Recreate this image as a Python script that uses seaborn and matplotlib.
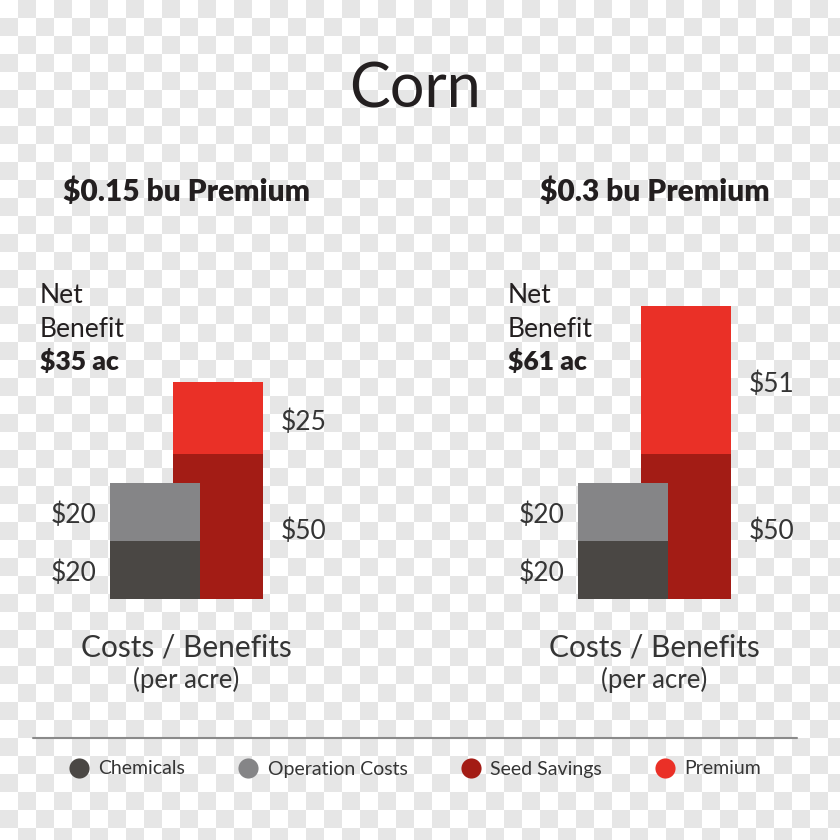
import numpy as np
import pandas as pd
import matplotlib
matplotlib.use("Agg")
import matplotlib.pyplot as plt
from matplotlib.lines import Line2D
from matplotlib.patches import Rectangle
import seaborn as sns

# ---------------- data ----------------
title = "Corn"
panels = ["$0.15 bu Premium", "$0.3 bu Premium"]
net_benefit = [35, 61]
layers = ["Chemicals", "Operation Costs", "Seed Savings", "Premium"]
chemicals = [20, 20]
operation_costs = [20, 20]
seed_savings = [50, 50]
premium = [25, 51]
stack_of_layer = {"Chemicals": "Costs", "Operation Costs": "Costs",
                  "Seed Savings": "Benefits", "Premium": "Benefits"}
colors = {"Chemicals": "#4a4744", "Operation Costs": "#858587",
          "Seed Savings": "#a31c15", "Premium": "#ea3027"}

# ---------------- style ----------------
sns.set_theme(style="white")
plt.rcParams["font.family"] = ["Lato", "DejaVu Sans"]
TXT = "#231f20"
LAB = "#353535"

W = H = 840
fig = plt.figure(figsize=(8.4, 8.4), dpi=100)
fig.patch.set_facecolor("white")

# transparent-checker backdrop of the reference (drawn as figure patches)
SQ = 18
CHECK = "#e6e6e6"
n = int(np.ceil(W / SQ)) + 1
for i in range(n):
    for j in range(n):
        if (i + j) % 2 == 1:
            fig.patches.append(Rectangle((j * SQ / W, 1 - (i + 1) * SQ / H), SQ / W, SQ / H,
                                         transform=fig.transFigure, figure=fig,
                                         facecolor=CHECK, edgecolor="none", zorder=-5))

UNIT_PX = 63.0      # px between the two stacks
DOLLAR_PX = 2.9     # px per dollar
BAR_W = 90 / UNIT_PX
xpos = {"Costs": 0.0, "Benefits": 1.0}

rows = []
for p, name in enumerate(panels):
    vals = {"Chemicals": chemicals[p], "Operation Costs": operation_costs[p],
            "Seed Savings": seed_savings[p], "Premium": premium[p]}
    cum = {"Costs": 0.0, "Benefits": 0.0}
    for lay in layers:
        st = stack_of_layer[lay]
        bottom = cum[st]
        cum[st] += vals[lay]
        rows.append(dict(panel=name, layer=lay, stack=st, x=xpos[st],
                         value=vals[lay], bottom=bottom, top=cum[st]))
df = pd.DataFrame(rows)

draw_order = ["Premium", "Seed Savings", "Operation Costs", "Chemicals"]


def px_axes(left, right, top, bottom):
    return fig.add_axes([left / W, 1 - bottom / H, (right - left) / W, (bottom - top) / H],
                        zorder=1)


for p, name in enumerate(panels):
    gc = 155 + 468 * p
    ax = px_axes(gc - 125, gc + 185, 250, 599)
    ax.patch.set_alpha(0)
    sub = df[df.panel == name]
    for lay in draw_order:
        d = sub[sub.layer == lay]
        sns.barplot(data=d, x="x", y="top", native_scale=True, width=BAR_W,
                    color=colors[lay], saturation=1, errorbar=None,
                    linewidth=0, ax=ax)
    ax.set_xlim(-125 / UNIT_PX, 185 / UNIT_PX)
    ax.set_ylim(0, 349 / DOLLAR_PX)
    ax.axis("off")

    # value labels
    for _, r in sub.iterrows():
        mid = (r.bottom + r.top) / 2
        if r.stack == "Costs":
            ax.annotate(f"${r.value:g}", xy=(r.x - BAR_W / 2, mid),
                        xytext=(-13, -11), textcoords="offset pixels",
                        ha="right", va="baseline", fontsize=19,
                        color=LAB, annotation_clip=False)
        else:
            ax.annotate(f"${r.value:g}", xy=(r.x + BAR_W / 2, mid),
                        xytext=(18, -12), textcoords="offset pixels",
                        ha="left", va="baseline", fontsize=19,
                        color=LAB, annotation_clip=False)

    cx = (gc - 45 + gc + 63 + 45) / 2
    fig.text(cx / W, 1 - 201 / H, name, ha="center", va="baseline",
             fontsize=21.5, fontweight="heavy", color=TXT)
    nx = (gc - 115) / W
    fig.text(nx, 1 - 303 / H, "Net", ha="left", va="baseline",
             fontsize=19, color=TXT)
    fig.text(nx, 1 - 337 / H, "Benefit", ha="left", va="baseline",
             fontsize=19, color=TXT)
    fig.text(nx, 1 - 370 / H, f"${net_benefit[p]} ac", ha="left", va="baseline",
             fontsize=19, fontweight="heavy", color=TXT)
    fig.text(cx / W, 1 - 657 / H, "Costs / Benefits", ha="center", va="baseline",
             fontsize=21.5, color=LAB)
    fig.text(cx / W, 1 - 688 / H, "(per acre)", ha="center", va="baseline",
             fontsize=18.5, color=LAB)

fig.text(415 / W, 1 - 108 / H, title, ha="center", va="baseline",
         fontsize=44, color=TXT)

# separator line
fig.add_artist(Line2D([33 / W, 797 / W], [1 - 738 / H, 1 - 738 / H],
                      color="#8a8a8a", lw=1.5, transform=fig.transFigure))

handles = [Line2D([], [], marker="o", linestyle="none", markersize=14.5,
                  markerfacecolor=colors[l], markeredgewidth=0) for l in layers]
leg = fig.legend(handles, layers, loc="center", bbox_to_anchor=(415 / W, 1 - 769 / H),
                 ncol=4, frameon=False, handlelength=1.0, handletextpad=0.5,
                 columnspacing=2.75, prop={"size": 14})
for t in leg.get_texts():
    t.set_color(LAB)

fig.savefig("out.png", dpi=100, facecolor=fig.get_facecolor())
